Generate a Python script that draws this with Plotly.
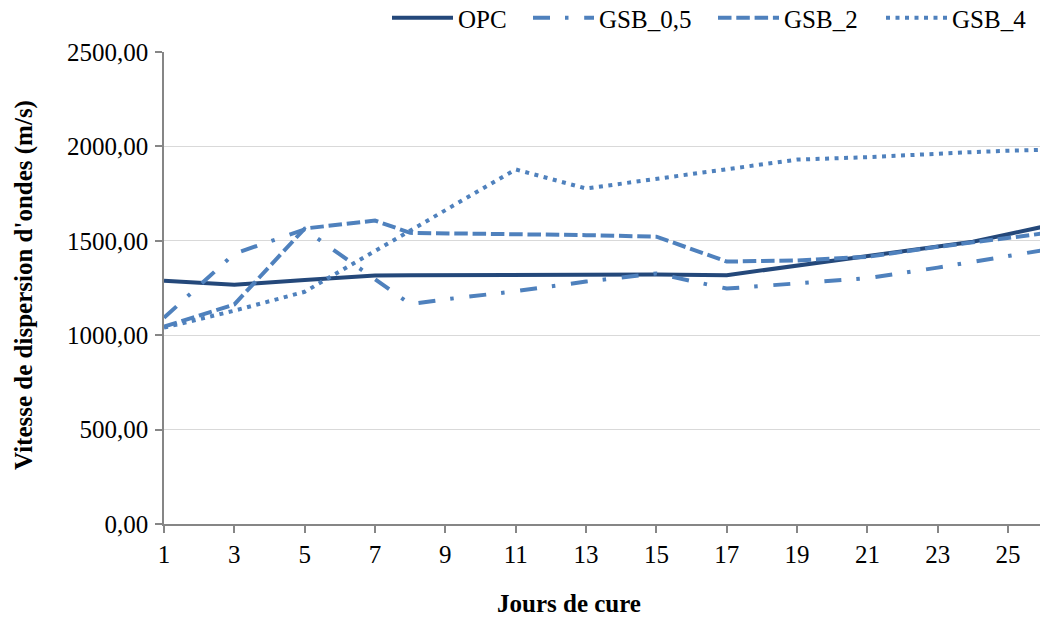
import plotly.graph_objects as go

# Curing days (category positions on the x axis)
days = [1, 3, 5, 7, 8, 9, 11, 13, 15, 17, 19, 21, 23, 24, 25, 26]

# Wave propagation velocity (m/s) for each mix
opc = [1288, 1267, 1292, 1316, 1317, 1318, 1320, 1323, 1322, 1318, 1369, 1419, 1470, 1495, 1535, 1575]
gsb_05 = [1092, 1432, 1560, 1298, 1165, 1190, 1233, 1284, 1327, 1247, 1272, 1302, 1358, 1389, 1420, 1450]
gsb_2 = [1045, 1163, 1565, 1607, 1542, 1540, 1535, 1530, 1522, 1390, 1396, 1415, 1468, 1493, 1518, 1539]
gsb_4 = [1040, 1130, 1230, 1446, 1554, 1662, 1878, 1777, 1827, 1878, 1930, 1943, 1963, 1970, 1977, 1982]

series_names = ["OPC", "GSB_0,5", "GSB_2", "GSB_4"]
x_tick_start, x_tick_step = 1, 2

W, H = 1040, 618
L, R, T, B = 164, 0, 52, 94
plot_w = W - L - R
plot_h = H - T - B

DARK = "#24487A"
LIGHT = "#4F81BD"
AXIS = "#868686"
GRID = "#D9D9D9"
FONT = "Liberation Serif"

styles = [
    dict(color=DARK, width=4, dash="solid"),
    dict(color=LIGHT, width=4, dash="17px,15px,3.5px,15.7px"),
    dict(color=LIGHT, width=4, dash="13.5px,4.8px"),
    dict(color=LIGHT, width=4, dash="4px,5.5px"),
]

# left edge (px) of each legend entry
legend_px = [387, 528, 713, 881]
legend_ids = ["legend", "legend2", "legend3", "legend4"]


def px_to_xpaper(px):
    return (px - L) / plot_w


def py_to_ypaper(py):
    return (H - B - py) / plot_h


fig = go.Figure()
for name, vals, st, lid in zip(series_names, [opc, gsb_05, gsb_2, gsb_4], styles, legend_ids):
    fig.add_trace(go.Scatter(
        x=days, y=vals, name=name, mode="lines",
        line=dict(color=st["color"], width=st["width"], dash=st["dash"]),
        legend=lid,
    ))

legend_common = dict(
    orientation="h", yanchor="middle", xanchor="left",
    font=dict(family=FONT, size=25, color="black"),
    bgcolor="rgba(0,0,0,0)", borderwidth=0, itemwidth=61,
    itemclick=False, itemdoubleclick=False,
)
layout_legends = {}
for lid, px in zip(legend_ids, legend_px):
    layout_legends[lid] = dict(legend_common, x=px_to_xpaper(px), y=py_to_ypaper(18))

x_right = x_tick_start + plot_w / 35.17

fig.update_layout(
    width=W, height=H,
    margin=dict(l=L, r=R, t=T, b=B, pad=0, autoexpand=False),
    paper_bgcolor="white", plot_bgcolor="white",
    separators=", ",
    font=dict(family=FONT, size=25, color="black"),
    showlegend=True,
    xaxis=dict(
        range=[x_tick_start, x_right],
        tick0=x_tick_start, dtick=x_tick_step, tickmode="linear",
        showgrid=False, zeroline=False,
        showline=True, linecolor=AXIS, linewidth=1.5,
        ticks="outside", ticklen=7, tickcolor=AXIS, tickwidth=1.5,
        tickfont=dict(family=FONT, size=25, color="black"),
    ),
    yaxis=dict(
        range=[0, 2500], tick0=0, dtick=500, tickmode="linear",
        tickformat=".2f",
        showgrid=True, gridcolor=GRID, gridwidth=1.2,
        zeroline=False,
        showline=True, linecolor=AXIS, linewidth=1.5,
        ticks="outside", ticklen=7, tickcolor=AXIS, tickwidth=1.5,
        ticklabelstandoff=2,
        tickfont=dict(family=FONT, size=25, color="black"),
    ),
    annotations=[
        dict(text="Jours de cure", xref="paper", yref="paper",
             x=px_to_xpaper(569), y=py_to_ypaper(603),
             xanchor="center", yanchor="middle", showarrow=False,
             font=dict(family=FONT, size=25, color="black", weight="bold")),
        dict(text="Vitesse de dispersion d'ondes (m/s)", xref="paper", yref="paper",
             x=px_to_xpaper(24), y=py_to_ypaper(285), textangle=-90,
             xanchor="center", yanchor="middle", showarrow=False,
             font=dict(family=FONT, size=25, color="black", weight="bold")),
    ],
    **layout_legends,
)

fig.write_html("out.html")
